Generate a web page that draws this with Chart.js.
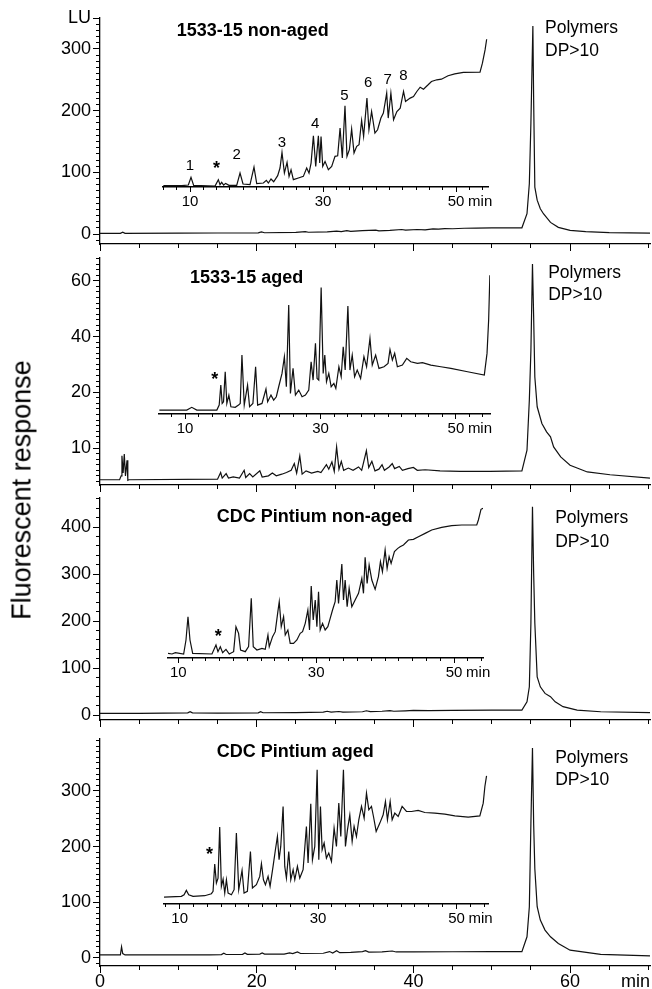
<!DOCTYPE html>
<html lang="en">
<head>
<meta charset="utf-8">
<title>Fluorescence chromatograms</title>
<script src="https://cdn.jsdelivr.net/npm/chart.js"></script>
<style>
  html, body { margin: 0; background: #fff; }
  #fig { position: relative; width: 652px; height: 989px; overflow: hidden; background: #fff; }
  #fig canvas { position: absolute; left: 0; top: 0; }
  #ytitle { position: absolute; left: 22px; top: 490px; transform: translate(-50%, -50%) rotate(-90deg);
            font: 27px "Liberation Sans", Arial, sans-serif; white-space: nowrap; color: #000; }
</style>
</head>
<body>
<div id="fig">
  <canvas id="p1" width="652" height="989"></canvas>
  <canvas id="p2" width="652" height="989"></canvas>
  <canvas id="p3" width="652" height="989"></canvas>
  <canvas id="p4" width="652" height="989"></canvas>
  <canvas id="i1" width="652" height="989"></canvas>
  <canvas id="i2" width="652" height="989"></canvas>
  <canvas id="i3" width="652" height="989"></canvas>
  <canvas id="i4" width="652" height="989"></canvas>
  <div id="ytitle">Fluorescent response</div>
</div>
<script>
// ---- data: [retention time (min), fluorescence (LU)] ----
const main1 = [[0,1.2],[2.6,1.2],[2.9,3.2],[3.2,1.2],[10,1.5],[15,1.8],[20.2,2],[20.6,3.5],[21,2.2],[25,2.8],[26.2,4],[26.6,3],[29,3.5],[30.2,5],[30.8,4],[31.5,5.5],[32,4.5],[33.5,5.5],[35.2,6.5],[35.6,5.2],[37,6],[38.5,7.5],[39,6.5],[40.5,7.5],[41.5,7],[42.5,8.5],[43.2,8],[44,9],[45,8.7],[46.5,9.5],[48,9.8],[50,10],[53.85,10.2],[54.5,33],[54.8,82],[55.0,180],[55.25,337],[55.35,217],[55.5,76],[55.8,55],[56.2,41],[56.6,33],[57.5,19],[58.5,11],[60,6],[62,4],[65,2.5],[70.2,1.5]];

const main2 = [[0,4.3],[2.5,4.3],[2.7,5],[2.8,8.6],[2.95,5.5],[3.1,8.9],[3.25,5],[3.45,7.8],[3.55,4.2],[3.7,4.3],[15.0,4.4],[15.4,5.6],[15.6,4.6],[16.1,5.4],[16.4,4.6],[17,4.8],[17.8,4.6],[18.4,6.0],[18.6,4.7],[19.1,5.4],[19.5,4.8],[20.4,5.9],[20.7,4.8],[21.5,5.0],[22.0,5.5],[22.5,5.0],[23.2,5.3],[23.8,5.6],[24.4,6.0],[24.8,7.2],[25.1,5.5],[25.5,8.6],[25.8,5.3],[26.3,5.9],[27,5.5],[27.8,5.8],[28.2,5.6],[28.9,7.0],[29.2,6.2],[29.6,7.5],[29.9,5.8],[30.2,10.2],[30.5,6.2],[30.8,7.6],[31.1,6.0],[31.7,6.4],[32.3,6.0],[33,6.6],[33.4,6.0],[34.0,9.5],[34.3,6.5],[34.7,7.6],[35.1,5.9],[35.6,6.2],[36.0,7.0],[36.3,6.0],[36.9,6.6],[37.3,7.2],[37.6,6.3],[38.2,6.7],[38.6,6.0],[39.3,6.3],[40,6.5],[40.5,6.0],[41.5,6.1],[43.4,5.9],[46,5.8],[49.8,5.8],[53.85,5.9],[54.5,9.6],[54.8,18.6],[55.0,35],[55.2,66],[55.35,47],[55.5,25.5],[55.8,17.4],[56.4,14.4],[57.0,12.9],[57.5,12.0],[57.9,10.2],[58.8,8.4],[60,6.9],[62.2,5.7],[65.1,5.2],[70.2,4.6]];

const main3 = [[0,3.5],[5,3.5],[11.2,4.5],[11.5,7],[11.8,4.5],[15,4],[20.2,4.5],[20.5,7],[20.8,4.8],[25,5],[28.5,6],[29,8],[29.5,6],[30.5,7.5],[31,6.2],[33.5,7],[34,9],[34.5,7.2],[36,8],[37,9.5],[37.5,8],[39,9],[40,10],[42,9.5],[45,10],[50,10.5],[53.85,10.6],[54.5,28],[54.8,60],[55.0,196],[55.2,443],[55.35,302],[55.5,196],[55.8,81],[56.2,60],[56.8,46],[57.5,39],[58.1,28],[59.1,17.7],[60.9,10.6],[63.9,7],[70.2,5]];

const main4 = [[0,5.4],[2.6,5.4],[2.75,20],[2.9,8],[3.2,5.5],[8,5.5],[14,5.5],[15.5,6],[15.8,8.5],[16.1,6.2],[18.2,6.5],[18.5,9],[18.8,6.5],[20.4,7],[20.7,9],[21,7],[23.5,7],[24.2,9],[24.6,8],[25.2,11],[25.6,8],[28.5,8.5],[29.3,11.5],[29.7,9],[30.2,13],[30.6,9.5],[32,10],[33.5,11.5],[33.9,13],[34.3,10.5],[36,11],[37.3,12.5],[37.8,10.8],[40,11],[45,11.2],[50,11.3],[53.85,11.4],[54.5,38],[54.8,92],[55.0,242],[55.2,377],[55.35,241],[55.5,160],[55.8,92],[56.2,68],[56.8,50],[57.5,38],[58.5,26],[60,14],[63.9,6.6],[70.2,3.6]];

const inset1 = [[5.99,77.6],[8.75,77.6],[9.75,78.6],[10.15,91.1],[10.55,78.1],[13.76,77.0],[14.26,87.3],[14.51,79.2],[14.76,83.0],[15.06,78.6],[15.36,81.3],[15.86,78.1],[17.02,78.1],[17.52,98.1],[17.97,80.3],[19.02,79.2],[19.62,107.8],[20.03,80.8],[21.03,81.9],[21.48,86.2],[21.78,81.9],[22.18,88.4],[22.58,84.0],[23.18,93.8],[23.53,106.2],[23.83,131.6],[24.19,98.1],[24.59,115.4],[24.89,92.7],[25.19,103.5],[25.54,87.3],[26.29,90.0],[27.04,92.7],[27.54,106.2],[27.89,98.1],[28.2,114.3],[28.55,158.6],[28.9,108.9],[29.3,158.6],[29.5,114.3],[29.7,157.6],[29.95,108.9],[30.3,117.0],[30.8,103.5],[31.3,108.9],[31.8,125.2],[32.2,126.2],[32.56,171.1],[32.9,122.4],[33.3,207.4],[33.6,125.2],[33.96,136.0],[34.3,169.5],[34.66,130.5],[35.06,141.4],[35.41,144.1],[35.8,183.6],[36.1,157.6],[36.6,219.8],[36.9,168.4],[37.3,198.1],[37.8,163.0],[38.2,168.4],[38.7,187.4],[39.07,195.5],[39.57,227.9],[39.8,187.4],[40.2,227.9],[40.6,184.6],[41.1,198.1],[41.6,203.6],[42.1,230.6],[42.4,214.4],[43.1,219.8],[43.6,222.5],[44.1,230.6],[44.6,237.6],[45.1,234.4],[45.8,241.5],[46.3,246.9],[47.1,249.6],[47.8,250.6],[48.8,256.1],[49.8,259.3],[51.1,261.5],[53.6,262.1],[53.96,276.6],[54.36,298.2],[54.6,315.5]];

const inset2 = [[6.2,13.5],[10.25,13.5],[10.99,14.5],[11.73,13.5],[14.69,13.5],[15.04,15.3],[15.28,22.5],[15.48,15.9],[15.68,16.5],[15.93,27.3],[16.17,15.9],[16.47,18.9],[16.77,14.7],[17.41,14.5],[17.9,15.3],[18.15,15.9],[18.4,33.3],[18.74,15.3],[19.23,22.5],[19.53,14.7],[20.02,15.9],[20.42,29.1],[20.72,15.3],[21.36,15.9],[21.95,21.1],[22.2,16.5],[22.69,18.9],[23.09,17.1],[23.48,18.3],[23.83,21.9],[24.32,26.7],[24.67,32.7],[24.96,21.9],[25.31,51.3],[25.56,19.5],[25.95,28.5],[26.3,18.9],[26.79,20.7],[27.28,18.3],[27.78,18.9],[28.27,20.7],[28.62,30.9],[28.91,24.3],[29.26,37.5],[29.5,24.9],[29.75,24.3],[30.1,57.6],[30.4,26.7],[30.64,33.3],[30.89,23.7],[31.23,26.7],[31.58,21.9],[31.98,23.1],[32.27,21.3],[32.72,29.1],[33.06,25.5],[33.36,36.3],[33.65,27.9],[34.05,50.9],[34.35,27.9],[34.69,33.3],[35.04,25.5],[35.43,27.9],[35.93,24.9],[36.42,32.7],[36.81,29.1],[37.31,39.3],[37.65,29.7],[38.15,33.3],[38.64,28.5],[39.38,29.1],[39.98,30.3],[40.27,35.3],[40.62,31.5],[40.96,33.9],[41.36,29.1],[42.1,29.7],[42.74,32.1],[43.33,30.9],[44.32,30.3],[45.06,30.6],[46.3,29.7],[47.78,29.1],[49.26,28.5],[51.73,27.3],[54.2,26.1],[54.6,33.9],[54.84,45.9],[55.02,62.0]];

const inset3 = [[8.5,131.2],[9.08,129.8],[9.57,132.6],[10.77,129.8],[11.11,159.6],[11.4,209.2],[11.69,159.6],[12.08,131.2],[14.88,129.8],[15.46,148.9],[15.75,134.8],[16.09,145.4],[16.43,132.6],[16.91,139.7],[17.39,129.8],[18.02,134.8],[18.36,187.9],[18.74,173.8],[19.03,138.3],[19.71,134.8],[20.19,145.4],[20.58,248.2],[20.87,145.4],[21.4,138.3],[22.13,141.8],[22.61,139.7],[23.0,170.2],[23.19,145.4],[23.67,166.7],[24.06,177.3],[24.44,219.9],[24.64,241.1],[24.93,187.9],[25.27,209.2],[25.51,170.2],[25.89,180.9],[26.23,152.5],[26.71,152.5],[27.2,159.6],[27.68,173.8],[28.02,177.3],[28.41,195.0],[28.79,223.4],[29.03,180.9],[29.28,274.5],[29.57,202.1],[29.86,244.7],[30.1,187.9],[30.34,262.4],[30.58,180.9],[30.92,195.0],[31.3,180.9],[31.69,187.9],[32.03,205.7],[32.37,223.4],[32.75,241.1],[32.99,287.2],[33.24,237.6],[33.72,321.3],[33.96,244.7],[34.2,287.2],[34.49,230.5],[34.78,269.5],[35.17,230.5],[35.65,244.7],[36.14,258.9],[36.62,290.8],[36.86,258.9],[37.1,335.5],[37.39,280.1],[37.68,319.1],[38.07,287.2],[38.55,267.4],[39.03,294.3],[39.32,326.2],[39.61,305.0],[40.0,351.1],[40.29,312.1],[40.58,336.9],[40.87,322.7],[41.35,347.5],[41.84,354.6],[42.17,358.2],[42.66,361.7],[43.38,372.3],[44.1,373.8],[44.83,379.4],[45.8,386.5],[46.76,393.6],[48.21,399.3],[49.66,402.8],[51.11,404.3],[53.29,404.3],[53.53,414.9],[53.91,437.6],[54.2,439.7]];

const inset4 = [[7.73,108.9],[10.24,110.1],[10.63,113.1],[10.96,120.9],[11.3,113.1],[11.93,110.1],[13.61,111.3],[14.58,114.9],[14.82,119.1],[15.06,168.2],[15.3,134.1],[15.54,143.0],[15.78,234.6],[16.02,128.1],[16.27,141.2],[16.51,116.1],[16.75,140.0],[16.99,116.1],[17.47,113.1],[17.86,122.1],[18.19,223.8],[18.53,122.1],[19.01,156.8],[19.3,116.1],[19.78,119.1],[20.22,190.9],[20.51,125.1],[21.08,131.1],[21.57,146.0],[21.81,168.8],[22.1,140.0],[22.39,131.1],[22.77,146.0],[23.06,128.1],[23.49,164.0],[23.83,193.9],[24.12,217.8],[24.36,175.9],[24.6,199.9],[24.94,271.7],[25.18,164.0],[25.42,143.0],[25.76,190.9],[26.05,140.0],[26.39,158.0],[26.63,140.0],[27.01,164.0],[27.35,143.0],[27.83,158.0],[28.31,235.8],[28.55,170.0],[28.94,276.5],[29.18,175.9],[29.52,199.9],[29.86,337.5],[30.1,175.9],[30.34,271.7],[30.58,193.9],[30.87,205.9],[31.2,178.9],[31.54,187.9],[31.93,172.9],[32.31,232.8],[32.65,199.9],[32.99,277.7],[33.28,217.8],[33.66,337.5],[33.95,199.9],[34.24,229.8],[34.58,256.7],[34.92,208.9],[35.2,235.8],[35.54,217.8],[35.88,247.8],[36.27,271.7],[36.65,250.7],[36.99,295.6],[37.33,265.7],[37.71,271.7],[38.0,253.7],[38.39,226.8],[38.92,241.8],[39.4,256.7],[39.73,280.7],[40.02,247.8],[40.41,280.7],[40.7,247.8],[41.08,259.7],[41.57,253.7],[42.14,271.7],[42.77,262.7],[43.49,262.7],[44.46,264.5],[45.42,260.9],[46.87,259.7],[48.31,257.9],[49.76,254.9],[51.69,252.5],[53.37,254.9],[53.86,277.7],[54.1,307.6],[54.34,326.8]];

// ---- tick values and labels ----
const timeTicks = [0, 20, 40, 60];
const timeLabels = ['0', '20', '40', '60'];
const insetTimeTicks = [10, 30, 50];
const insetTimeLabels = ['10', '30', '50'];
const p1YTicks = [0, 100, 200, 300, 350];
const p1YLabels = ['0', '100', '200', '300', 'LU'];
const p2YTicks = [10, 20, 40, 60];
const p2YLabels = ['10', '20', '40', '60'];
const p3YTicks = [0, 100, 200, 300, 400];
const p3YLabels = ['0', '100', '200', '300', '400'];
const p4YTicks = [0, 100, 200, 300];
const p4YLabels = ['0', '100', '200', '300'];
const sampleNames = ['1533-15 non-aged', '1533-15 aged', 'CDC Pintium non-aged', 'CDC Pintium aged'];
const polymerLabel = ['Polymers', 'DP>10'];
const peakLabels = ['1', '2', '3', '4', '5', '6', '7', '8'];

// ---- drawing ----
const INK = '#000';
const FAMILY = '"Liberation Sans", Arial, sans-serif';
const TITLE_FONT = 'bold 18px ' + FAMILY;
const POLY_FONT = '17.5px ' + FAMILY;
const PEAK_FONT = '15px ' + FAMILY;
const STAR_FONT = 'bold 18px ' + FAMILY;
const W = 652, H = 989, PLOT_LEFT = 100, PLOT_RIGHT = 650, AXIS_H = 23, TIME_MAX = 70.2;

Chart.defaults.font.family = FAMILY;
Chart.defaults.color = INK;

// y axis of the second panel is stretched 2x below 20 LU, as in the original figure
const BREAK_AT = 20, BREAK_STRETCH = 2;
class BrokenScale extends Chart.LinearScale {
  static id = 'broken';
  static defaults = Chart.LinearScale.defaults;
  warp(v) { return v >= BREAK_AT ? v : BREAK_AT - (BREAK_AT - v) * BREAK_STRETCH; }
  unwarp(u) { return u >= BREAK_AT ? u : BREAK_AT - (BREAK_AT - u) / BREAK_STRETCH; }
  getPixelForValue(v) {
    if (v === null || isNaN(v)) return NaN;
    const a = this.warp(this.min), b = this.warp(this.max);
    return this.getPixelForDecimal((this.warp(v) - a) / (b - a));
  }
  getValueForPixel(p) {
    const a = this.warp(this.min), b = this.warp(this.max);
    return this.unwarp(a + this.getDecimalForPixel(p) * (b - a));
  }
}
Chart.register(BrokenScale);

// text labels anchored to data coordinates (optional dx/dy nudge in px)
const notesPlugin = {
  id: 'notes',
  afterDatasetsDraw(chart, args, opts) {
    const ctx = chart.ctx, xs = chart.scales.x, ys = chart.scales.y;
    (opts.items || []).forEach(n => {
      ctx.save();
      ctx.font = n.font;
      ctx.fillStyle = INK;
      ctx.textAlign = n.align || 'center';
      ctx.textBaseline = 'middle';
      ctx.fillText(n.text, xs.getPixelForValue(n.x) + (n.dx || 0), ys.getPixelForValue(n.y) + (n.dy || 0));
      ctx.restore();
    });
  }
};

function steps(from, to, step) {
  const out = [];
  for (let v = from; v <= to + 1e-9; v += step) out.push(Math.round(v * 100) / 100);
  return out;
}
const setTicks = list => s => { s.ticks = list.map(v => ({ value: v })); };
const labelFor = (vals, labels) => v => { const i = vals.indexOf(v); return i < 0 ? '' : labels[i]; };

const panels = [
  { canvas: 'p1', series: main1, top: 18, bottom: 244, yType: 'linear', yMin: -16, yMax: 350,
    yTicks: p1YTicks, yLabels: p1YLabels, yMinor: steps(-10, 350, 10),
    notes: [
      { text: sampleNames[0], x: 9.8, y: 329, font: TITLE_FONT, align: 'left' },
      { text: polymerLabel[0], x: 56.8, y: 334, font: POLY_FONT, align: 'left' },
      { text: polymerLabel[1], x: 56.8, y: 297, font: POLY_FONT, align: 'left' }] },
  { canvas: 'p2', series: main2, top: 258, bottom: 485, yType: 'broken', yMin: 3.36, yMax: 68.2,
    yTicks: p2YTicks, yLabels: p2YLabels, yMinor: steps(4, 19, 1).concat(steps(20, 68, 2)),
    notes: [
      { text: sampleNames[1], x: 11.5, y: 61, font: TITLE_FONT, align: 'left' },
      { text: polymerLabel[0], x: 57.2, y: 62.9, font: POLY_FONT, align: 'left' },
      { text: polymerLabel[1], x: 57.2, y: 54.9, font: POLY_FONT, align: 'left' }] },
  { canvas: 'p3', series: main3, top: 498, bottom: 720, yType: 'linear', yMin: -10.6, yMax: 461.7,
    yTicks: p3YTicks, yLabels: p3YLabels, yMinor: steps(0, 460, 20),
    notes: [
      { text: sampleNames[2], x: 14.9, y: 421, font: TITLE_FONT, align: 'left' },
      { text: polymerLabel[0], x: 58.1, y: 419, font: POLY_FONT, align: 'left' },
      { text: polymerLabel[1], x: 58.1, y: 368.7, font: POLY_FONT, align: 'left' }] },
  { canvas: 'p4', series: main4, top: 739, bottom: 966, yType: 'linear', yMin: -14.4, yMax: 393,
    yTicks: p4YTicks, yLabels: p4YLabels, yMinor: steps(-10, 390, 10), last: true,
    notes: [
      { text: sampleNames[3], x: 14.9, y: 370, font: TITLE_FONT, align: 'left' },
      { text: polymerLabel[0], x: 58.1, y: 359, font: POLY_FONT, align: 'left' },
      { text: polymerLabel[1], x: 58.1, y: 319.6, font: POLY_FONT, align: 'left' }] }
];

const insets = [
  { canvas: 'i1', series: inset1, left: 163, right: 488, top: 18, axis: 187, tMin: 5.94, tMax: 54.8, vMin: 75.4, vMax: 350,
    notes: [
      { text: peakLabels[0], x: 10.0, y: 110 }, { text: '*', x: 14.0, y: 105, font: STAR_FONT },
      { text: peakLabels[1], x: 17.0, y: 127.8 }, { text: peakLabels[2], x: 23.8, y: 147.3 },
      { text: peakLabels[3], x: 28.8, y: 178 }, { text: peakLabels[4], x: 33.2, y: 223.6 },
      { text: peakLabels[5], x: 36.8, y: 244.6 }, { text: peakLabels[6], x: 39.7, y: 249.5 },
      { text: peakLabels[7], x: 42.1, y: 256 }] },
  { canvas: 'i2', series: inset2, left: 159, right: 490, top: 258, axis: 414, tMin: 6.15, tMax: 55.04, vMin: 12.1, vMax: 68.2,
    notes: [{ text: '*', x: 14.4, y: 24.4, font: STAR_FONT }] },
  { canvas: 'i3', series: inset3, left: 168, right: 483, top: 498, axis: 658, tMin: 8.5, tMax: 54.2, vMin: 121.3, vMax: 461.7,
    notes: [{ text: '*', x: 15.8, y: 166, font: STAR_FONT }] },
  { canvas: 'i4', series: inset4, left: 164, right: 488, top: 739, axis: 904, tMin: 7.73, tMax: 54.55, vMin: 96.4, vMax: 393,
    notes: [{ text: '*', x: 14.3, y: 183.6, font: STAR_FONT }] }
];

function trace(series) {
  return { data: series, xAxisID: 'x', yAxisID: 'y', borderColor: '#111', borderWidth: 1.2,
           pointRadius: 0, tension: 0, fill: false };
}

panels.forEach(p => {
  new Chart(document.getElementById(p.canvas), {
    type: 'line',
    data: { datasets: [trace(p.series)] },
    options: {
      responsive: false, animation: false, events: [],
      layout: { padding: { left: 0, right: W - PLOT_RIGHT, top: p.top, bottom: H - p.bottom - AXIS_H } },
      plugins: { legend: { display: false }, tooltip: { enabled: false }, notes: { items: p.notes } },
      scales: {
        x: { type: 'linear', position: 'bottom', min: 0, max: TIME_MAX, bounds: 'data', weight: 1,
             afterBuildTicks: setTicks(timeTicks), afterFit: s => { s.height = AXIS_H; },
             grid: { drawOnChartArea: false, tickLength: 7, color: INK },
             border: { color: INK, width: 1.3 },
             ticks: { display: !!p.last, autoSkip: false, maxRotation: 0, padding: 0,
                      font: { size: 18, lineHeight: 1 }, callback: labelFor(timeTicks, timeLabels) },
             title: { display: !!p.last, text: 'min', align: 'end', font: { size: 18, lineHeight: 1 },
                      padding: { top: 0, bottom: -2 } } },
        xm: { type: 'linear', position: 'bottom', min: 0, max: TIME_MAX, bounds: 'data', weight: 0,
              afterBuildTicks: setTicks(steps(0, 70, 5)), afterFit: s => { s.height = 0; },
              grid: { drawOnChartArea: false, tickLength: 4, color: INK },
              border: { display: false }, ticks: { display: false } },
        y: { type: p.yType, position: 'left', min: p.yMin, max: p.yMax, bounds: 'data', weight: 1,
             afterBuildTicks: setTicks(p.yTicks), afterFit: s => { s.width = PLOT_LEFT; },
             grid: { drawOnChartArea: false, tickLength: 7, color: INK },
             border: { color: INK, width: 1.3 },
             ticks: { autoSkip: false, padding: 2, font: { size: 18 }, callback: labelFor(p.yTicks, p.yLabels) } },
        ym: { type: p.yType, position: 'left', min: p.yMin, max: p.yMax, bounds: 'data', weight: 0,
              afterBuildTicks: setTicks(p.yMinor), afterFit: s => { s.width = 0; },
              grid: { drawOnChartArea: false, tickLength: 4, color: INK },
              border: { display: false }, ticks: { display: false } }
      }
    },
    plugins: [notesPlugin]
  });
});

const INSET_AXIS_H = 30;
insets.forEach(n => {
  // the "min" unit sits just right of the 50 tick label, on the tick-label row
  const unit = { text: 'min', x: 50, y: n.vMin, dx: 12, dy: 15, align: 'left' };
  new Chart(document.getElementById(n.canvas), {
    type: 'line',
    data: { datasets: [trace(n.series)] },
    options: {
      responsive: false, animation: false, events: [],
      layout: { padding: { left: n.left, right: W - n.right, top: n.top, bottom: H - n.axis - INSET_AXIS_H } },
      plugins: { legend: { display: false }, tooltip: { enabled: false },
                 notes: { items: n.notes.concat([unit]).map(o => Object.assign({ font: PEAK_FONT }, o)) } },
      scales: {
        x: { type: 'linear', position: 'bottom', min: n.tMin, max: n.tMax, bounds: 'data', weight: 1,
             afterBuildTicks: setTicks(insetTimeTicks), afterFit: s => { s.height = INSET_AXIS_H; },
             grid: { drawOnChartArea: false, tickLength: 5, color: INK },
             border: { color: INK, width: 1.6 },
             ticks: { autoSkip: false, maxRotation: 0, padding: 1, font: { size: 15 },
                      callback: labelFor(insetTimeTicks, insetTimeLabels) } },
        xm: { type: 'linear', position: 'bottom', min: n.tMin, max: n.tMax, bounds: 'data', weight: 0,
              afterBuildTicks: setTicks(steps(Math.ceil(n.tMin / 2) * 2, n.tMax, 2)), afterFit: s => { s.height = 0; },
              grid: { drawOnChartArea: false, tickLength: 3, color: INK },
              border: { display: false }, ticks: { display: false } },
        y: { type: 'linear', display: false, min: n.vMin, max: n.vMax, bounds: 'data' }
      }
    },
    plugins: [notesPlugin]
  });
});
</script>
</body>
</html>
